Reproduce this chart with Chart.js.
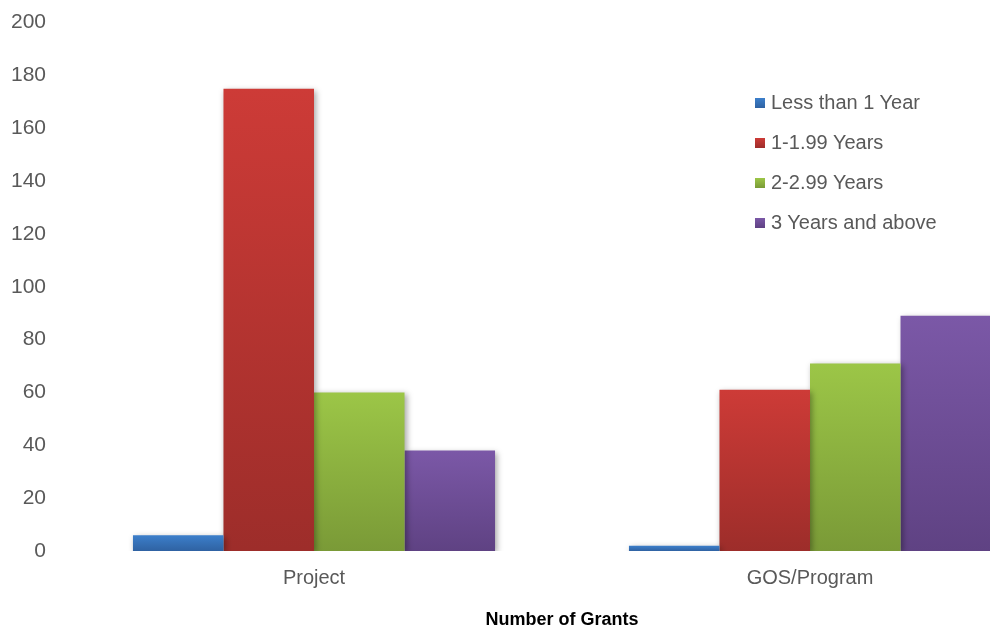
<!DOCTYPE html>
<html>
<head>
<meta charset="utf-8">
<script src="https://cdn.jsdelivr.net/npm/chart.js@4"></script>
<style>
  html, body { margin: 0; padding: 0; background: #fff; overflow: hidden; }
  #wrap { position: relative; top: -10px; width: 1070px; height: 641px; }
  #legend { position: absolute; left: 755px; top: 101px; font-family: "Liberation Sans", Arial, sans-serif; font-size: 20px; color: #595959; }
  #legend .item { height: 40px; display: flex; align-items: flex-start; }
  #legend .box { width: 10px; height: 10px; margin-top: 7px; margin-right: 6px; }
</style>
</head>
<body>
<div id="wrap">
  <canvas id="chart"></canvas>
  <div id="legend"></div>
</div>
<script>
// --- chart data ---
const categories = ['Project', 'GOS/Program'];
const seriesNames = ['Less than 1 Year', '1-1.99 Years', '2-2.99 Years', '3 Years and above'];
const lessThanOne = [6, 2];
const oneToTwo = [175, 61];
const twoToThree = [60, 71];
const threeAndAbove = [38, 89];
const yTicks = [0, 20, 40, 60, 80, 100, 120, 140, 160, 180, 200];

// top / bottom colours of each bar gradient
const palette = [
    ['#3c7fcb', '#2f62a2'],
    ['#cd3b37', '#9d2d2a'],
    ['#9cc647', '#7a9a37'],
    ['#7b58a7', '#5f4283']
];

// vertical gradient per bar, from its top down to zero
const barGradient = (top, bottom) => (ctx) => {
    const chart = ctx.chart;
    if (!chart.chartArea || ctx.type !== 'data') return bottom;
    const y = chart.scales.y;
    const y0 = y.getPixelForValue(0);
    const y1 = y.getPixelForValue(ctx.parsed.y);
    if (!isFinite(y1) || y0 === y1) return top;
    const g = chart.ctx.createLinearGradient(0, y1, 0, y0);
    g.addColorStop(0, top);
    g.addColorStop(1, bottom);
    return g;
};

const seriesValues = [lessThanOne, oneToTwo, twoToThree, threeAndAbove];

const datasets = seriesNames.map((name, i) => ({
    label: name,
    data: seriesValues[i],
    backgroundColor: barGradient(palette[i][0], palette[i][1]),
    borderWidth: 0,
    barPercentage: 1,
    categoryPercentage: 0.73
}));

// soft drop shadow behind the bars
const barShadow = {
    id: 'barShadow',
    beforeDatasetsDraw(chart) {
        const c = chart.ctx;
        c.save();
        c.shadowColor = 'rgba(0,0,0,0.35)';
        c.shadowBlur = 6;
        c.shadowOffsetX = 2;
        c.shadowOffsetY = 2;
    },
    afterDatasetsDraw(chart) {
        chart.ctx.restore();
    }
};

const fontFamily = '"Liberation Sans", Arial, sans-serif';

new Chart(document.getElementById('chart'), {
    type: 'bar',
    data: { labels: categories, datasets: datasets },
    plugins: [barShadow],
    options: {
        responsive: true,
        maintainAspectRatio: false,
        animation: false,
        layout: { padding: { top: 0, right: 12, bottom: 0, left: 0 } },
        plugins: {
            legend: { display: false },
            tooltip: { enabled: false }
        },
        scales: {
            x: {
                grid: { display: false, drawTicks: false },
                border: { display: false },
                ticks: { color: '#595959', font: { family: fontFamily, size: 20 }, padding: 15 },
                title: {
                    display: true,
                    text: 'Number of Grants',
                    color: '#000',
                    font: { family: fontFamily, size: 18, weight: 'bold' },
                    padding: { top: 18, bottom: 0 }
                },
                afterFit: (axis) => { axis.height = 80; }
            },
            y: {
                min: 0,
                max: 200,
                afterBuildTicks: (axis) => { axis.ticks = yTicks.map(v => ({ value: v })); },
                grid: { display: false, drawTicks: false },
                border: { display: false },
                ticks: { color: '#595959', font: { family: fontFamily, size: 21 }, padding: 20 },
                afterFit: (axis) => { axis.width = 66; }
            }
        }
    }
});

// legend built from the same series
const legend = document.getElementById('legend');
seriesNames.forEach((name, i) => {
    const item = document.createElement('div');
    item.className = 'item';
    const box = document.createElement('span');
    box.className = 'box';
    box.style.background = `linear-gradient(${palette[i][0]}, ${palette[i][1]})`;
    const label = document.createElement('span');
    label.textContent = name;
    item.appendChild(box);
    item.appendChild(label);
    legend.appendChild(item);
});
</script>
</body>
</html>
